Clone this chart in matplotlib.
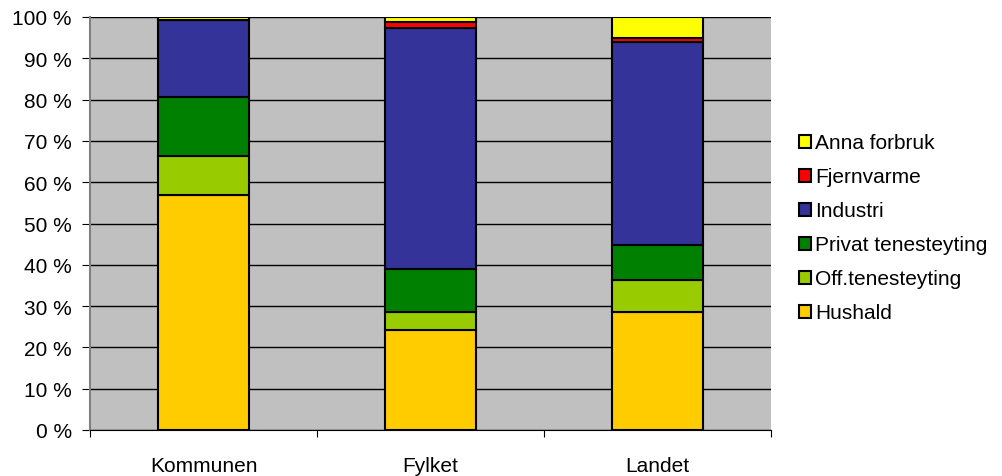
import numpy as np
import matplotlib.pyplot as plt

plt.rcParams['font.family'] = ['Liberation Sans', 'DejaVu Sans']

# data (percent shares)
places = ['Kommunen', 'Fylket', 'Landet']
series = ['Hushald', 'Off.tenesteyting', 'Privat tenesteyting', 'Industri', 'Fjernvarme', 'Anna forbruk']
hushald = [56.9, 24.2, 28.6]
off_ten = [9.4, 4.4, 7.7]
privat = [14.3, 10.4, 8.5]
industri = [18.6, 58.3, 49.2]
fjernvarme = [0.0, 1.6, 1.0]
anna = [0.8, 1.1, 5.0]
colors = ['#FFCC00', '#99CC00', '#008000', '#333399', '#FF0000', '#FFFF00']

values = [hushald, off_ten, privat, industri, fjernvarme, anna]

fig = plt.figure(figsize=(10.02, 4.77), dpi=100)
ax = fig.add_axes([90/1002, 46/477, 681/1002, 413/477])
ax.set_facecolor('#C0C0C0')

x = np.arange(len(places))
bottom = np.zeros(len(places))
for name, vals, c in zip(series, values, colors):
    ax.bar(x, vals, bottom=bottom, width=0.4, color=c, edgecolor='black',
           linewidth=1.5, label=name, zorder=3)
    bottom += np.array(vals)

ax.set_xlim(-0.5, 2.5)
ax.set_ylim(0, 100)
ax.set_yticks(np.arange(0, 101, 10))
ax.set_yticklabels([f'{v} %' for v in range(0, 101, 10)], fontsize=15)
ax.yaxis.grid(True, color='black', linewidth=1, zorder=1)
ax.set_axisbelow(True)

ax.set_xticks([-0.5, 0.5, 1.5, 2.5])
ax.set_xticklabels([])
ax.set_xticks(x, minor=True)
ax.set_xticklabels(places, minor=True, fontsize=15)
ax.tick_params(axis='x', which='minor', length=0, pad=19)
ax.tick_params(axis='x', which='major', length=5, color='black')
ax.tick_params(axis='y', length=6, pad=7, color='black')

for s in ['top', 'right']:
    ax.spines[s].set_visible(False)
ax.spines['left'].set_color('#808080')
ax.spines['left'].set_linewidth(1.5)
ax.spines['bottom'].set_color('black')

h, l = ax.get_legend_handles_labels()
fig.legend(h[::-1], l[::-1], loc='center left', bbox_to_anchor=(780/1002, 1 - 229/477),
           frameon=False, fontsize=15, handlelength=0.6, handleheight=0.6,
           handletextpad=0.2, labelspacing=0.72)

fig.savefig('out.png', dpi=100)
